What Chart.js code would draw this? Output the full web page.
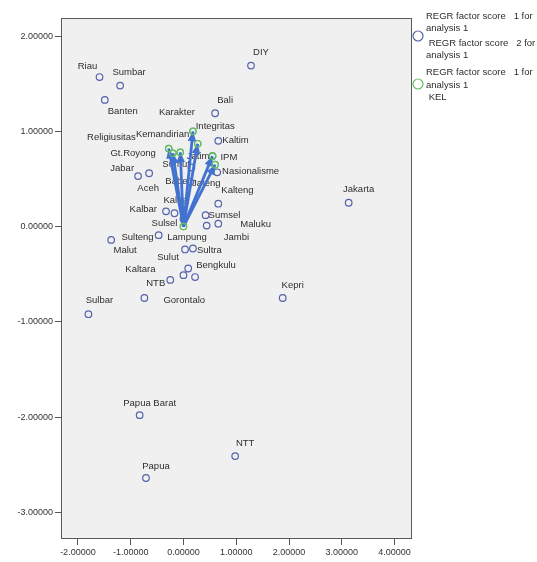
<!DOCTYPE html>
<html>
<head>
<meta charset="utf-8">
<script src="https://cdn.jsdelivr.net/npm/chart.js@4.4.1/dist/chart.umd.min.js"></script>
<style>
  html, body { margin: 0; padding: 0; background: #ffffff; }
  #wrap { width: 537px; height: 562px; }
</style>
</head>
<body>
<div id="wrap"><canvas id="biplot" width="537" height="562"></canvas></div>
<script>
// Province scores: REGR factor score 1 (x) and 2 (y)
const provinces = ["Riau","Sumbar","Banten","DIY","Bali","Kaltim","Jatim","Jabar","Aceh","Jateng",
  "Sumut","Babel","Kalsel","Kalbar","Kalteng","Sumsel","Maluku","Jambi","Sulsel","Sulteng",
  "Malut","Lampung","Sultra","Bengkulu","Kaltara","Sulut","NTB","Gorontalo","Sulbar","Kepri",
  "Jakarta","Papua Barat","NTT","Papua"];
const provX = [-1.59,-1.20,-1.49,1.28,0.60,0.66,0.55,-0.86,-0.65,0.64,
  0.15,0.13,-0.17,-0.33,0.66,0.42,0.66,0.44,0.00,-0.47,
  -1.37,0.03,0.18,0.09,0.00,0.22,-0.25,-0.74,-1.80,1.88,
  3.13,-0.83,0.98,-0.71];
const provY = [1.57,1.48,1.33,1.69,1.19,0.90,0.74,0.53,0.56,0.57,
  0.62,0.47,0.14,0.16,0.24,0.12,0.03,0.01,0.08,-0.09,
  -0.14,-0.24,-0.23,-0.44,-0.51,-0.53,-0.56,-0.75,-0.92,-0.75,
  0.25,-1.98,-2.41,-2.64];

// Variable loadings (KEL group), drawn as arrows from the origin
const variables = ["Karakter","Integritas","Kemandirian","Religiusitas","Gt.Royong","IPM","Nasionalisme"];
const varX = [0.18,0.27,-0.06,-0.28,-0.20,0.55,0.60];
const varY = [1.00,0.87,0.78,0.82,0.77,0.74,0.65];

const xTicks = [-2,-1,0,1,2,3,4];
const yTicks = [-3,-2,-1,0,1,2];

const legendBlue = ["REGR factor score   1 for","analysis 1"," REGR factor score   2 for","analysis 1"];
const legendGreen = ["REGR factor score   1 for","analysis 1"," KEL"];

// Label placement: [dx, dy, align] in pixels relative to the point
const labelPlace = {
  "Riau":[-12,-11,"center"], "Sumbar":[9,-13,"center"], "Banten":[18,11,"center"],
  "DIY":[10,-13,"center"], "Bali":[10,-13,"center"], "Kaltim":[4,0,"left"],
  "Jatim":[-3,0,"right"], "Jabar":[-4,-8,"right"], "Aceh":[-1,15,"center"],
  "Jateng":[-11,11,"center"], "Sumut":[-29,-3,"left"], "Babel":[-25,0,"left"],
  "Kalsel":[-11,-13,"left"], "Kalbar":[-9,-2,"right"], "Kalteng":[3,-13,"left"],
  "Sumsel":[3,0,"left"], "Maluku":[22,1,"left"], "Jambi":[17,12,"left"],
  "Sulsel":[-6,4,"right"], "Sulteng":[-5,2,"right"], "Malut":[14,10,"center"],
  "Lampung":[2,-12,"center"], "Sultra":[4,2,"left"], "Bengkulu":[8,-3,"left"],
  "Kaltara":[-28,-6,"right"], "Sulut":[-27,-20,"center"], "NTB":[-5,3,"right"],
  "Gorontalo":[19,2,"left"], "Sulbar":[11,-14,"center"], "Kepri":[10,-13,"center"],
  "Jakarta":[10,-13,"center"], "Papua Barat":[10,-12,"center"], "NTT":[10,-13,"center"],
  "Papua":[10,-12,"center"],
  "Karakter":[-16,-19,"center"], "Integritas":[-2,-17,"left"], "Kemandirian":[9,-18,"right"],
  "Religiusitas":[-33,-11,"right"], "Gt.Royong":[-17,0,"right"], "IPM":[8,1,"left"],
  "Nasionalisme":[7,7,"left"]
};

const BLUE_PT = "#5563ad";
const GREEN_PT = "#63bf63";
const ARROW = "#4272cf";
const TEXT = "#2e2e2e";
const FONT = '"Liberation Sans", Arial, sans-serif';

const provPoints = provinces.map((n, i) => ({ x: provX[i], y: provY[i], name: n }));
const varPoints = [{ x: 0, y: 0, name: "" }].concat(
  variables.map((n, i) => ({ x: varX[i], y: varY[i], name: n })));

const arrowSets = variables.map((n, i) => ({
  type: "scatter",
  label: n,
  data: [{ x: 0, y: 0 }, { x: varX[i], y: varY[i] }],
  showLine: true,
  borderColor: ARROW,
  borderWidth: 2.8,
  pointRadius: 0,
  pointHoverRadius: 0
}));

const biplotDecor = {
  id: "biplotDecor",
  beforeDraw(chart) {
    const { ctx, chartArea: a } = chart;
    ctx.save();
    ctx.fillStyle = "#f0f0f0";
    ctx.fillRect(a.left, a.top, a.right - a.left, a.bottom - a.top);
    ctx.restore();
  },
  beforeDatasetsDraw(chart) {
    // point labels sit under the marks and arrows
    const { ctx, scales } = chart;
    const sx = scales.x, sy = scales.y;
    ctx.save();
    ctx.fillStyle = TEXT;
    ctx.font = "9.5px " + FONT;
    ctx.textBaseline = "middle";
    provPoints.concat(varPoints).forEach(p => {
      if (!p.name) return;
      const pl = labelPlace[p.name] || [5, 0, "left"];
      ctx.textAlign = pl[2];
      ctx.fillText(p.name, sx.getPixelForValue(p.x) + pl[0], sy.getPixelForValue(p.y) + pl[1]);
    });
    ctx.restore();
  },
  afterDatasetsDraw(chart) {
    const { ctx, chartArea: a, scales } = chart;
    const sx = scales.x, sy = scales.y;
    const ox = sx.getPixelForValue(0), oy = sy.getPixelForValue(0);
    ctx.save();
    // arrowheads
    ctx.fillStyle = ARROW;
    variables.forEach((n, i) => {
      const px = sx.getPixelForValue(varX[i]), py = sy.getPixelForValue(varY[i]);
      const ang = Math.atan2(py - oy, px - ox);
      const len = 10, half = 4.3;
      const bx = px - len * Math.cos(ang), by = py - len * Math.sin(ang);
      ctx.beginPath();
      ctx.moveTo(px, py);
      ctx.lineTo(bx + half * Math.sin(ang), by - half * Math.cos(ang));
      ctx.lineTo(bx - half * Math.sin(ang), by + half * Math.cos(ang));
      ctx.closePath();
      ctx.fill();
    });
    // green tip markers on top
    ctx.strokeStyle = GREEN_PT;
    ctx.lineWidth = 1.2;
    varPoints.forEach(p => {
      ctx.beginPath();
      ctx.arc(sx.getPixelForValue(p.x), sy.getPixelForValue(p.y), 3.2, 0, Math.PI * 2);
      ctx.stroke();
    });
    // frame
    ctx.strokeStyle = "#5a5a5a";
    ctx.lineWidth = 1;
    ctx.strokeRect(a.left + 0.5, a.top + 0.5, a.right - a.left - 1, a.bottom - a.top);
    // legend
    const lx = a.right + 6;
    ctx.lineWidth = 1.2;
    ctx.strokeStyle = BLUE_PT;
    ctx.beginPath(); ctx.arc(lx, 36, 5, 0, Math.PI * 2); ctx.stroke();
    ctx.strokeStyle = GREEN_PT;
    ctx.beginPath(); ctx.arc(lx, 84, 5, 0, Math.PI * 2); ctx.stroke();
    ctx.fillStyle = TEXT;
    ctx.textAlign = "left";
    ctx.textBaseline = "middle";
    ctx.font = "9.5px " + FONT;
    const blueY = [16, 28, 43, 55];
    legendBlue.forEach((t, i) => ctx.fillText(t, lx + 8, blueY[i]));
    const greenY = [72, 85, 97];
    legendGreen.forEach((t, i) => ctx.fillText(t, lx + 8, greenY[i]));
    ctx.restore();
  }
};

new Chart(document.getElementById("biplot"), {
  type: "scatter",
  data: {
    datasets: [
      {
        label: "KEL",
        data: varPoints,
        pointStyle: "circle",
        pointRadius: 3.2,
        borderColor: GREEN_PT,
        backgroundColor: "rgba(0,0,0,0)",
        borderWidth: 1.2
      },
      ...arrowSets,
      {
        label: "Provinsi",
        data: provPoints,
        pointStyle: "circle",
        pointRadius: 3.3,
        borderColor: BLUE_PT,
        backgroundColor: "rgba(0,0,0,0)",
        borderWidth: 1.2
      }
    ]
  },
  options: {
    responsive: false,
    animation: false,
    devicePixelRatio: 1,
    layout: { padding: { left: 0, top: 18, right: 125, bottom: 0 } },
    plugins: { legend: { display: false }, tooltip: { enabled: false } },
    scales: {
      x: {
        type: "linear",
        min: -2.32,
        max: 4.33,
        afterFit(s) { s.height = 24; },
        afterBuildTicks(s) { s.ticks = xTicks.map(v => ({ value: v })); },
        border: { display: false },
        grid: { drawOnChartArea: false, drawTicks: true, tickLength: 7, color: "#555" },
        ticks: {
          padding: 2,
          maxRotation: 0,
          color: "#333",
          font: { family: FONT, size: 9 },
          callback: v => v.toFixed(5)
        }
      },
      y: {
        type: "linear",
        min: -3.27,
        max: 2.19,
        afterFit(s) { s.width = 61; },
        afterBuildTicks(s) { s.ticks = yTicks.map(v => ({ value: v })); },
        border: { display: false },
        grid: { drawOnChartArea: false, drawTicks: true, tickLength: 6, color: "#555" },
        ticks: {
          padding: 2,
          color: "#333",
          font: { family: FONT, size: 9 },
          callback: v => v.toFixed(5)
        }
      }
    }
  },
  plugins: [biplotDecor]
});
</script>
</body>
</html>
